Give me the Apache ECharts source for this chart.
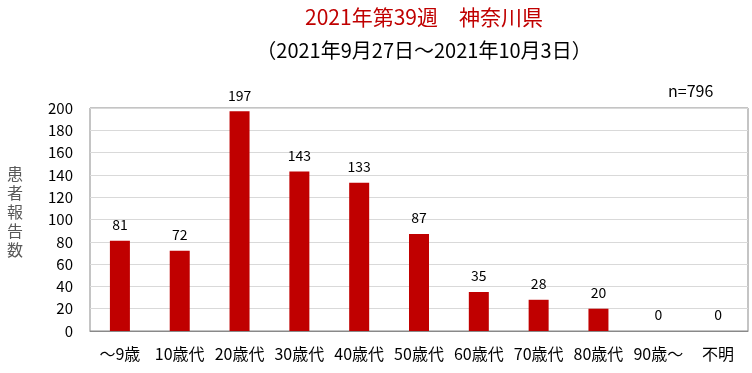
<!DOCTYPE html>
<html><head><meta charset="utf-8">
<script src="https://cdn.jsdelivr.net/npm/echarts@6/dist/echarts.min.js"></script>
<style>html,body{margin:0;padding:0;background:#fff}#c{width:752px;height:373px}</style>
</head><body><div id="c"></div>
<script>
const categories = ['～9歳','10歳代','20歳代','30歳代','40歳代','50歳代','60歳代','70歳代','80歳代','90歳～','不明'];
const values = [81,72,197,143,133,87,35,28,20,0,0];
const yTicks = [0,20,40,60,80,100,120,140,160,180,200];
const titleText = '2021年第39週　神奈川県';
const subtitleText = '（2021年9月27日～2021年10月3日）';
const nText = 'n=796';
const yName = '患者報告数';

const font = '"Noto Sans CJK JP", "Liberation Sans", sans-serif';
const chart = echarts.init(document.getElementById('c'));
chart.setOption({
  animation: false,
  textStyle: {fontFamily: font},
  title: [
    {text: titleText, left: 419, textAlign: 'center', top: 2, textStyle: {color: '#C00000', fontSize: 21, fontWeight: 'normal', fontFamily: font}},
    {text: subtitleText, left: 419, textAlign: 'center', top: 35, textStyle: {color: '#000', fontSize: 20, fontWeight: 'normal', fontFamily: font}},
    {text: nText, left: 663, top: 78, textStyle: {color: '#000', fontSize: 16, fontWeight: 'normal', fontFamily: font}},
    {text: yName.split('').join('\n'), left: 2, top: 159, textStyle: {color: '#595959', fontSize: 16, fontWeight: 'normal', lineHeight: 19, fontFamily: font}}
  ],
  grid: {left: 90, right: 4, top: 108, bottom: 42, show: true, borderColor: '#898989', borderWidth: 1},
  xAxis: {
    type: 'category', data: categories,
    axisLine: {show: true, lineStyle: {color: '#898989'}},
    axisTick: {show: false},
    axisLabel: {color: '#000', fontSize: 16, margin: 15, interval: 0, fontFamily: font}
  },
  yAxis: {
    type: 'value', min: yTicks[0], max: yTicks[yTicks.length-1], interval: 20,
    axisLine: {show: false}, axisTick: {show: false},
    axisLabel: {color: '#000', fontSize: 15, margin: 17, fontFamily: font},
    splitLine: {lineStyle: {color: '#d9d9d9'}}
  },
  series: [{
    type: 'bar', data: values, barWidth: 20,
    itemStyle: {color: '#C00000'},
    label: {show: true, position: 'top', distance: 9, color: '#000', fontSize: 14, fontFamily: font}
  }]
});
</script></body></html>
